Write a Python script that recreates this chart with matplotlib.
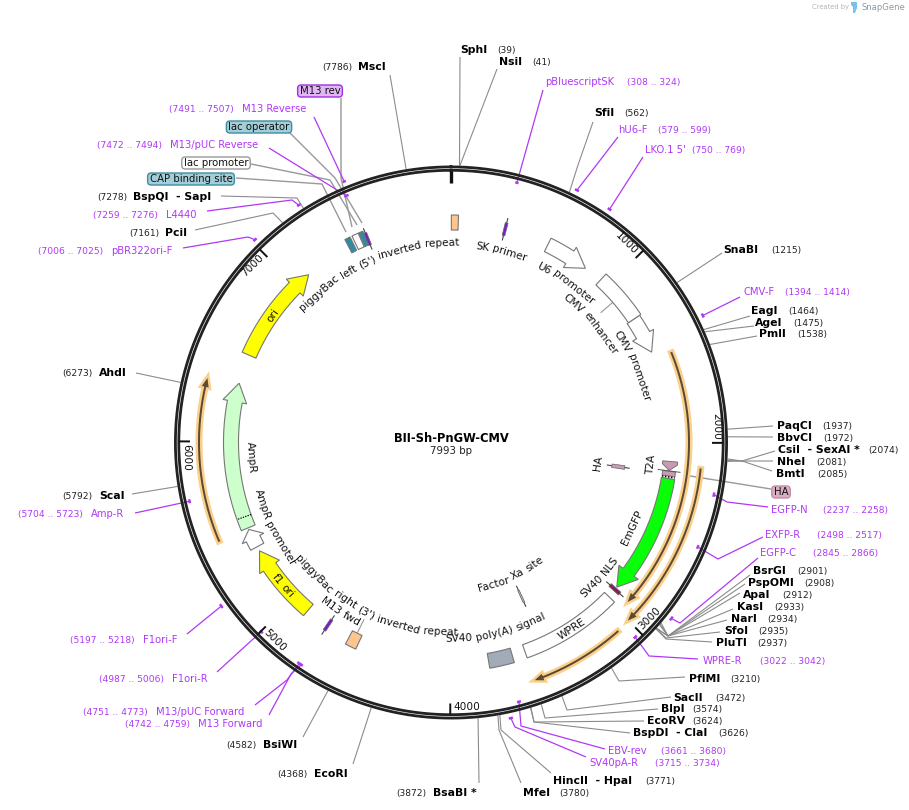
"""Circular plasmid map of BII-Sh-PnGW-CMV, drawn in pixel coordinates from base-pair positions."""

import numpy as np
import matplotlib

matplotlib.use("Agg")
import matplotlib.pyplot as plt
from matplotlib.patches import FancyBboxPatch, Polygon

PLASMID_NAME = "BII-Sh-PnGW-CMV"
PLASMID_LENGTH = 7993

TICK_POSITIONS = [1000, 2000, 3000, 4000, 5000, 6000, 7000]

# restriction sites
SITE_NAMES = ["SphI", "NsiI", "SfiI", "SnaBI", "EagI", "AgeI", "PmlI", "PaqCI", "BbvCI", "CsiI  - SexAI *",
              "NheI", "BmtI", "BsrGI", "PspOMI", "ApaI", "KasI", "NarI", "SfoI", "PluTI", "PflMI", "SacII",
              "BlpI", "EcoRV", "BspDI  - ClaI", "HincII  - HpaI", "MfeI", "BsaBI *", "EcoRI", "BsiWI",
              "ScaI", "AhdI", "PciI", "BspQI  - SapI", "MscI"]
SITE_POS = [39, 41, 562, 1215, 1464, 1475, 1538, 1937, 1972, 2074, 2081, 2085, 2901, 2908, 2912, 2933, 2934,
            2935, 2937, 3210, 3472, 3574, 3624, 3626, 3771, 3780, 3872, 4368, 4582, 5792, 6273, 7161, 7278,
            7786]

# primers
PRIMER_NAMES = ["pBluescriptSK", "hU6-F", "LKO.1 5'", "CMV-F", "EGFP-N", "EXFP-R", "EGFP-C", "WPRE-R",
                "EBV-rev", "SV40pA-R", "M13 Reverse", "M13/pUC Reverse", "L4440", "pBR322ori-F", "Amp-R",
                "F1ori-F", "F1ori-R", "M13/pUC Forward", "M13 Forward"]
PRIMER_START = [308, 579, 750, 1394, 2237, 2498, 2845, 3022, 3661, 3715, 7491, 7472, 7259, 7006, 5704, 5197,
                4987, 4751, 4742]
PRIMER_END = [324, 599, 769, 1414, 2258, 2517, 2866, 3042, 3680, 3734, 7507, 7494, 7276, 7025, 5723, 5218,
              5006, 4773, 4759]

# features on the inner track: from, to (reversed order means it points counter-clockwise)
ARROW_NAMES = ["ori", "AmpR", "AmpR promoter", "f1 ori", "U6 promoter", "CMV promoter", "EmGFP"]
ARROW_FROM = [6514, 5488, 5367, 4894, 579, 1243, 2207]
ARROW_TO = [7098, 6342, 5478, 5340, 836, 1460, 2911]

BOX_NAMES = ["piggyBac left (5') inverted repeat", "piggyBac right (3') inverted repeat", "CMV enhancer", "WPRE",
             "SV40 poly(A) signal", "CAP binding site", "lac promoter", "lac operator"]
BOX_FROM = [2, 4546, 946, 2982, 3640, 7380, 7424, 7465]
BOX_TO = [42, 4610, 1243, 3564, 3780, 7412, 7462, 7490]

SLIVER_NAMES = ["SK primer", "M13 fwd", "M13 rev", "SV40 NLS", "HA", "Factor Xa site"]
SLIVER_FROM = [308, 4742, 7491, 2917, 2167, 3446]
SLIVER_TO = [324, 4759, 7507, 2938, 2194, 3458]

# highlighted open reading frames
ORF_FROM = [1503, 2130, 3073, 5480]
ORF_TO = [2933, 3002, 3566, 6324]

# ---- layout (pixels of the 909x810 picture) ----
CX, CY = 451.0, 442.5
PURPLE = "#b038f5"
GREY = "#8c8c8c"

# name x, y, number x
SITE_LABELS = [(460, 50, 497), (499, 62, 532), (594, 113, 624), (723, 250, 771), (751, 311, 788), (755, 323, 793),
               (759, 334, 797), (777, 426, 822), (777, 438, 823), (778, 450, 868), (777, 462, 816), (776, 474, 817),
               (753, 571, 797), (748, 583, 804), (743, 595, 782), (737, 607, 774), (731, 619, 767), (724, 631, 758),
               (716, 643, 757), (689, 679, 730), (673, 698, 715), (661, 709, 692), (647, 721, 692), (633, 733, 718),
               (553, 781, 645), (523, 793, 559), (433, 793, 396), (314, 774, 277), (263, 745, 226), (99, 496, 62),
               (99, 373, 62), (165, 233, 129), (133, 197, 97), (358, 67, 322)]
SITE_LEADERS = [[(460, 57)], [(497, 69)], [(578, 165), (593, 122)], [(722, 253)], [(750, 316)], [(754, 326)],
                [(757, 336)], [(773, 426)], [(773, 437)], [(742, 461), (775, 451)], [(742, 461), (773, 461)],
                [(742, 461), (772, 471)], [(668, 636), (750, 575)], [(668, 636), (745, 584)], [(668, 636), (740, 593)],
                [(668, 636), (733, 609)], [(668, 636), (727, 620)], [(666, 638), (720, 632)], [(666, 639), (712, 642)],
                [(619, 681), (685, 677)], [(567, 710), (671, 697)], [(545, 718), (658, 709)], [(534, 722), (644, 721)],
                [(534, 722), (630, 733)], [(501, 730), (551, 773)], [(499, 730), (521, 783)], [(479, 783)],
                [(353, 764)], [(303, 737)], [(132, 494)], [(136, 373)], [(273, 213), (195, 230)], [(297, 198), (221, 196)],
                [(390, 75)]]

PRIMER_LABELS = [(545, 82, 627), (618, 130, 658), (645, 150, 692), (743, 292, 785), (771, 510, 823), (765, 535, 817),
                 (760, 553, 813), (703, 661, 760), (608, 751, 661), (589, 763, 655), (242, 109, 169), (170, 145, 97),
                 (166, 215, 93), (111, 251, 38), (91, 514, 18), (143, 640, 70), (172, 679, 99), (156, 712, 83),
                 (198, 724, 125)]
PRIMER_RADIUS = [268, 282, 282, 282, 268, 268, 282, 268, 268, 282, 282, 268, 282, 282, 268, 282, 268, 268, 268]
PRIMER_LEADERS = [[(543, 90)], [(618, 137)], [(643, 157)], [(740, 297)], [(727, 502), (768, 507)], [(718, 559), (763, 537)],
                  [(680, 623), (758, 558)], [(649, 656), (698, 659)], [(521, 726), (605, 749)], [(515, 727), (586, 757)],
                  [(314, 117)], [(269, 148)], [(292, 200), (207, 211)], [(248, 237), (183, 248)], [(135, 513)],
                  [(187, 634)], [(252, 640), (217, 672)], [(287, 680), (255, 705)], [(291, 674), (269, 715)]]

ARROW_STYLE = {"ori": "#ffff00", "AmpR": "#ccffcc", "AmpR promoter": "white", "f1 ori": "#ffff00",
               "U6 promoter": "white", "CMV promoter": "white", "EmGFP": "#08ff08"}
ARROW_HEAD_LEN = {"AmpR promoter": 10.0}
BOX_STYLE = {"piggyBac left (5') inverted repeat": "#ffc58f", "piggyBac right (3') inverted repeat": "#ffc58f",
             "CMV enhancer": "white", "WPRE": "white", "SV40 poly(A) signal": "#a2abb8",
             "CAP binding site": "#2f8ba0", "lac promoter": "white", "lac operator": "#2f8ba0"}
SLIVER_STYLE = {"SK primer": "#7a1fc4", "M13 fwd": "#7a1fc4", "M13 rev": "#7a1fc4", "SV40 NLS": "#80205a",
                "HA": "#cc99b3", "Factor Xa site": "#b8b8b8"}
SLIVER_RADIUS = {"HA": 169.0, "Factor Xa site": 169.0}

ORF_RADIUS = [238.0, 251.0, 252.0, 252.0]

# label, angle in degrees clockwise from the top, radius of the text centre
INNER_LABELS = [("piggyBac left (5') inverted repeat", 337.0, 199.0), ("piggyBac right (3') inverted repeat", 205.7, 190.0),
                ("SK primer", 14.6, 198.0), ("U6 promoter", 35.7, 197.0), ("CMV enhancer", 49.6, 185.0),
                ("CMV promoter", 67.2, 198.5), ("T2A", 96.3, 201.0), ("HA", 98.0, 148.5), ("EmGFP", 115.2, 200.0),
                ("SV40 NLS", 132.2, 201.0), ("WPRE", 147.0, 222.0), ("SV40 poly(A) signal", 166.5, 196.0),
                ("Factor Xa site", 155.7, 148.0), ("AmpR promoter", 244.3, 198.6), ("f1 ori", 229.4, 221.0),
                ("AmpR", 265.7, 200.6), ("ori", 305.4, 219.0), ("M13 fwd", 213.1, 203.0)]

# callout text, box centre, fill, edge, leader elbow, inner end of the leader
CALLOUTS = [("M13 rev", (320, 91), "#e2b6f5", "#a030e0", (341, 178), (352, 227), (341, 98)),
            ("lac operator", (259, 127), "#a3ced9", "#3c8ea0", (335, 178), (362, 223), (290, 133)),
            ("lac promoter", (216, 163), "white", "#999999", (330, 180), (357, 225), (251, 164)),
            ("CAP binding site", (191, 179), "#a3ced9", "#3c8ea0", (322, 184), (346, 232), (236, 178)),
            ("HA", (781, 492), "#d9aec3", "#c090a8", (690, 476), (690, 476), (771, 489))]

fig = plt.figure(figsize=(9.09, 8.10), dpi=100)
ax = fig.add_axes([0, 0, 1, 1])
ax.set_xlim(0, 909)
ax.set_ylim(810, 0)
ax.axis("off")
renderer = fig.canvas.get_renderer()


def theta_of(bp):
    return np.asarray(bp, dtype=float) / PLASMID_LENGTH * 2.0 * np.pi


def polar(bp, r):
    t = theta_of(bp)
    return CX + r * np.sin(t), CY - r * np.cos(t)


def at_angle(t, r):
    return CX + r * np.sin(t), CY - r * np.cos(t)


def arc(bp0, bp1, r, n=120):
    return np.column_stack(polar(np.linspace(bp0, bp1, n), r))


def band(bp0, bp1, r, width):
    return np.vstack([arc(bp0, bp1, r + width / 2), arc(bp1, bp0, r - width / 2)])


def arrow_outline(bp0, bp1, r, width=15.0, head_width=24.0, head_len=19.0):
    """Arc band from bp0 to bp1 with its head at bp1; bp1 < bp0 points counter-clockwise."""
    step = head_len / r / (2 * np.pi) * PLASMID_LENGTH * np.sign(bp1 - bp0)
    neck = bp1 - step
    return np.vstack([arc(bp0, neck, r + width / 2), polar(neck, r + head_width / 2), polar(bp1, r),
                      polar(neck, r - head_width / 2), arc(neck, bp0, r - width / 2)])


def reading_rotation(deg):
    # lower half and sides read with the letter tops towards the centre
    deg %= 360.0
    flipped = 91.0 < deg < 272.0
    rot = 180.0 - deg if flipped else -deg
    return (rot + 180.0) % 360.0 - 180.0, flipped


def text_width(s, **kw):
    t = ax.text(0, 0, s, **kw)
    w = t.get_window_extent(renderer).width
    t.remove()
    return w


def curved_label(label, deg, r, size=7.6, **kw):
    """Lay a label along the circle, word by word."""
    _, flipped = reading_rotation(deg)
    words = label.split(" ")
    total = text_width(label, fontsize=size)
    sign = -1.0 if flipped else 1.0
    prefix = ""
    for word in words:
        left = text_width(prefix + word, fontsize=size) - text_width(word, fontsize=size) if prefix else 0.0
        mid = left + text_width(word, fontsize=size) / 2 - total / 2
        d = np.deg2rad(deg) + sign * mid / r
        x, y = at_angle(d, r)
        rot, _ = reading_rotation(np.rad2deg(d))
        ax.text(x, y, word, fontsize=size, rotation=rot, rotation_mode="anchor", ha="center", va="center",
                color="#111111", zorder=8, **kw)
        prefix += word + " "


def leader(start, points, color=GREY, lw=0.8, zorder=2):
    xy = np.array([start] + list(points), dtype=float)
    ax.plot(xy[:, 0], xy[:, 1], color=color, lw=lw, zorder=zorder, solid_capstyle="butt")


# restriction sites: leaders then labels
for name, pos, (lx, ly, nx), pts in zip(SITE_NAMES, SITE_POS, SITE_LABELS, SITE_LEADERS):
    leader(polar(pos, 277), pts)
    ax.text(lx, ly, name, fontsize=7.8, fontweight="bold", color="black", va="center", ha="left")
    ax.text(nx, ly + 0.5, f"({pos})", fontsize=6.6, color="#222222", va="center", ha="left")

# primers: the leader runs under the ring, the mark sits inside or outside it
for name, a, b, r, (lx, ly, nx), pts in zip(PRIMER_NAMES, PRIMER_START, PRIMER_END, PRIMER_RADIUS, PRIMER_LABELS,
                                             PRIMER_LEADERS):
    leader(polar((a + b) / 2, r), pts, color=PURPLE, lw=0.9, zorder=3)
    ax.plot(*arc(a, b, r).T, color=PURPLE, lw=1.8, zorder=3, solid_capstyle="butt")
    ax.text(lx, ly, name, fontsize=7.2, color=PURPLE, va="center", ha="left")
    ax.text(nx, ly + 0.5, f"({a} .. {b})", fontsize=6.6, color=PURPLE, va="center", ha="left")

# callout boxes with their leaders through the ring
for label, (bx, by), fill, edge, elbow, inner, near in CALLOUTS:
    leader(near, [elbow, inner], color="#999999", lw=1.0, zorder=2)
    w = text_width(label, fontsize=7.3)
    ax.add_patch(FancyBboxPatch((bx - w / 2, by - 4.0), w, 8, boxstyle="round,pad=2.0,rounding_size=3.5",
                                fc=fill, ec=edge, lw=1.0, zorder=5))
    ax.text(bx, by, label, fontsize=7.3, color="#111111", ha="center", va="center", zorder=6)

# backbone ring, on top of the leaders
full = np.linspace(0, PLASMID_LENGTH, 721)
for r in (272.2, 275.6):
    ax.plot(*np.column_stack(polar(full, r)).T, color="#222222", lw=2.0, zorder=4)

ax.plot(*np.array([polar(0, 260), polar(0, 272)]).T, color="#111111", lw=2.4, zorder=4, solid_capstyle="butt")
for pos in TICK_POSITIONS:
    ax.plot(*np.array([polar(pos, 261), polar(pos, 272)]).T, color="#111111", lw=1.4, zorder=4, solid_capstyle="butt")
    deg = float(theta_of(pos)) * 180.0 / np.pi
    rot, flipped = reading_rotation(deg)
    x, y = at_angle(np.deg2rad(deg) - 3.0 / 265.0, 265)
    ax.text(x, y, str(pos), fontsize=7.6, color="#111111", rotation=rot, rotation_mode="anchor", va="center",
            ha="left" if flipped else "right", zorder=8)

# highlighted reading frames
for a, b, r in zip(ORF_FROM, ORF_TO, ORF_RADIUS):
    outline = arrow_outline(a, b, r, width=2.0, head_width=7.0, head_len=9.0)
    ax.add_patch(Polygon(outline, closed=True, fc="#fbd08b", ec="#fbd08b", lw=3.6, joinstyle="miter", zorder=3))
    ax.add_patch(Polygon(outline, closed=True, fc="#5c4a36", ec="none", zorder=3.5))

# inner track
for name, a, b in zip(ARROW_NAMES, ARROW_FROM, ARROW_TO):
    ax.add_patch(Polygon(arrow_outline(a, b, 220.0, width=15.0 if name != "EmGFP" else 13.5,
                                       head_len=ARROW_HEAD_LEN.get(name, 19.0)), closed=True,
                         fc=ARROW_STYLE[name], ec="#777777", lw=0.8, zorder=5))
for name, a, b in zip(BOX_NAMES, BOX_FROM, BOX_TO):
    ax.add_patch(Polygon(band(a, b, 220.0 if "piggyBac" in name else 221.5, 15.0 if name != "WPRE" else 14.0),
                         closed=True, fc=BOX_STYLE[name], ec="#777777", lw=0.8, zorder=5))
for name, a, b in zip(SLIVER_NAMES, SLIVER_FROM, SLIVER_TO):
    r = SLIVER_RADIUS.get(name, 220.0)
    mid = (a + b) / 2
    ax.plot(*np.array([polar(mid, r - 11), polar(mid, r + 11)]).T, color="#444444", lw=0.8, zorder=5)
    ax.add_patch(Polygon(band(a, b, r, 13.0), closed=True, fc=SLIVER_STYLE[name], ec="#666666", lw=0.5, zorder=6))

# T2A sits directly ahead of EmGFP, with dotted linkers at the joins
ax.add_patch(Polygon(arrow_outline(2108, 2160, 220.0, width=15.0, head_width=15.0, head_len=6.0), closed=True,
                     fc="#cc99b3", ec="#777777", lw=0.7, zorder=6))
ax.add_patch(Polygon(band(2165, 2192, 220.0, 13.0), closed=True, fc="#cc99b3", ec="#777777", lw=0.7, zorder=6))
ax.plot(*np.array([polar(2163, 209), polar(2163, 231)]).T, color="#555555", lw=0.7, zorder=6)
ax.plot(*np.array([polar(2198, 213.5), polar(2198, 226.5)]).T, color="black", lw=1.1, ls=(0, (1, 1)), zorder=7)
ax.plot(*np.array([polar(5555, 212.5), polar(5555, 227.5)]).T, color="black", lw=0.9, ls=(0, (1, 1)), zorder=7)

# short feature leaders from the label to the feature
leader(polar(1090, 228), [polar(1090, 198)], color="#999999", lw=0.8)
leader(polar(4578, 212), [polar(4578, 197)], color="#999999", lw=0.8)

for label, deg, r in INNER_LABELS:
    curved_label(label, deg, r)

ax.text(CX, 439, PLASMID_NAME, fontsize=8.3, fontweight="bold", ha="center", va="center", color="black")
ax.text(CX, 451, f"{PLASMID_LENGTH} bp", fontsize=7.4, ha="center", va="center", color="#222222")

ax.text(812, 7, "Created by", fontsize=4.9, color="#b5b5b5", ha="left", va="center")
ax.text(861, 7, "SnapGene", fontsize=6.1, color="#8f99a3", ha="left", va="center")
ax.add_patch(Polygon([(851, 2), (857, 2), (857, 8), (855, 13), (853, 13), (853, 7), (851, 5)], closed=True,
                     fc="#79c3ea", ec="none"))

fig.savefig("out.png", dpi=100)
